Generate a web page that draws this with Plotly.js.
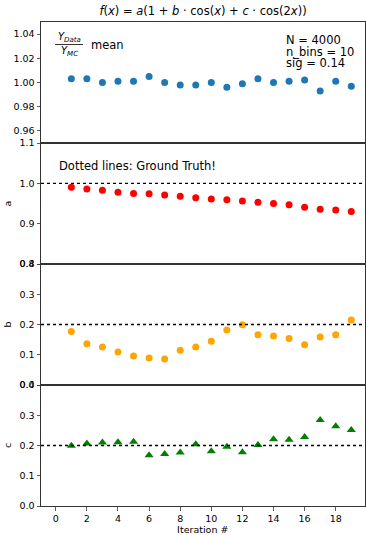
<!DOCTYPE html>
<html>
<head>
<meta charset="utf-8">
<script src="https://cdn.plot.ly/plotly-3.0.1.min.js"></script>
<style>html,body{margin:0;padding:0;background:#fff;}#chart{width:366px;height:535px;}</style>
</head>
<body>
<div id="chart"></div>
<script>
const iterations = [1,2,3,4,5,6,7,8,9,10,11,12,13,14,15,16,17,18,19];
const ratioMean = [1.003,1.003,1.000,1.001,1.001,1.005,1.000,0.998,0.998,1.000,0.996,0.999,1.003,1.000,1.001,1.002,0.993,1.001,0.997];
const aValues = [0.990,0.986,0.983,0.978,0.975,0.974,0.971,0.968,0.964,0.961,0.959,0.956,0.953,0.950,0.947,0.941,0.936,0.934,0.930];
const bValues = [0.177,0.136,0.126,0.109,0.096,0.089,0.086,0.115,0.126,0.145,0.182,0.199,0.166,0.162,0.154,0.133,0.159,0.166,0.215];
const cValues = [0.199,0.207,0.210,0.211,0.212,0.168,0.172,0.177,0.204,0.181,0.196,0.178,0.202,0.221,0.219,0.228,0.284,0.264,0.251];
const truthA = 1.0, truthB = 0.2, truthC = 0.2;
const xTicks = [0,2,4,6,8,10,12,14,16,18];

const W = 366, H = 535;
const px = v => v / W;
const py = v => 1 - v / H;
const font = {family: 'DejaVu Sans, sans-serif', color: '#000'};

const traces = [
  {x: iterations, y: ratioMean, xaxis: 'x4', yaxis: 'y4', mode: 'markers', type: 'scatter',
   marker: {color: '#1f77b4', size: 7}},
  {x: iterations, y: aValues, xaxis: 'x3', yaxis: 'y3', mode: 'markers', type: 'scatter',
   marker: {color: '#ff0000', size: 7}},
  {x: iterations, y: bValues, xaxis: 'x2', yaxis: 'y2', mode: 'markers', type: 'scatter',
   marker: {color: '#ffa500', size: 7}},
  {x: iterations, y: cValues, xaxis: 'x', yaxis: 'y', mode: 'markers', type: 'scatter',
   marker: {color: '#008000', size: 8, symbol: 'triangle-up'}}
];

const xdom = [px(41), px(364.5)];
const xr = [-0.95, 19.85];
const tickFont = Object.assign({size: 9.5}, font);
function xax(extra) {
  return Object.assign({domain: xdom, range: xr, showline: true, mirror: true, linecolor: '#333', linewidth: 1,
    zeroline: false, showgrid: false, tickvals: xTicks, tickfont: tickFont, automargin: false}, extra);
}
function yax(dom, range, dtick, fmt, title, extra) {
  const ax = {domain: dom, range: range, dtick: dtick, tick0: 0, tickformat: fmt,
    showline: true, mirror: true, linecolor: '#333', linewidth: 1, zeroline: false, showgrid: false,
    ticks: 'outside', ticklen: 3.5, tickwidth: 0.8, tickcolor: '#333', tickfont: tickFont, automargin: false};
  if (title) ax.title = {text: title, font: Object.assign({size: 9.5}, font), standoff: 6};
  return Object.assign(ax, extra);
}

const layout = {
  width: W, height: H,
  margin: {l: 0, r: 0, t: 0, b: 0},
  paper_bgcolor: '#fff', plot_bgcolor: '#fff',
  showlegend: false,
  title: {text: '<i>f</i>(<i>x</i>) = <i>a</i>(1 + <i>b</i> · cos(<i>x</i>) + <i>c</i> · cos(2<i>x</i>))',
    font: Object.assign({size: 11.5}, font), x: px(203), xanchor: 'center', y: py(11), yanchor: 'middle', xref: 'paper', yref: 'paper'},
  xaxis: xax({anchor: 'y', ticks: 'outside', ticklen: 3.5, tickwidth: 0.8, tickcolor: '#333',
    title: {text: 'Iteration #', font: Object.assign({size: 9.5}, font), standoff: 4}}),
  xaxis2: xax({anchor: 'y2', matches: 'x', ticks: '', showticklabels: false}),
  xaxis3: xax({anchor: 'y3', matches: 'x', ticks: '', showticklabels: false}),
  xaxis4: xax({anchor: 'y4', matches: 'x', ticks: '', showticklabels: false}),
  yaxis: yax([py(506), py(385)], [0, 0.4], 0.1, '.1f', 'c', {anchor: 'x'}),
  yaxis2: yax([py(385), py(264)], [0, 0.4], 0.1, '.1f', 'b', {anchor: 'x2'}),
  yaxis3: yax([py(264), py(143)], [0.8, 1.1], 0.1, '.1f', 'a', {anchor: 'x3'}),
  yaxis4: yax([py(143), py(22)], [0.95, 1.05], 0.02, '.2f', null, {anchor: 'x4', tick0: 0.96}),
  shapes: [
    {type: 'line', xref: 'x3 domain', yref: 'y3', x0: 0, x1: 1, y0: truthA, y1: truthA, line: {color: '#000', width: 1.3, dash: 'dot'}},
    {type: 'line', xref: 'x2 domain', yref: 'y2', x0: 0, x1: 1, y0: truthB, y1: truthB, line: {color: '#000', width: 1.3, dash: 'dot'}},
    {type: 'line', xref: 'x domain', yref: 'y', x0: 0, x1: 1, y0: truthC, y1: truthC, line: {color: '#000', width: 1.3, dash: 'dot'}},
    {type: 'line', xref: 'paper', yref: 'paper', x0: px(55), x1: px(83), y0: py(44.5), y1: py(44.5), line: {color: '#000', width: 0.8}}
  ],
  annotations: [
    {text: '<i>Y</i><sub><i>Data</i></sub>', xref: 'paper', yref: 'paper', x: px(69), y: py(38), xanchor: 'center', yanchor: 'middle', showarrow: false, font: Object.assign({size: 10}, font)},
    {text: '<i>Y</i><sub><i>MC</i></sub>', xref: 'paper', yref: 'paper', x: px(69), y: py(51), xanchor: 'center', yanchor: 'middle', showarrow: false, font: Object.assign({size: 10}, font)},
    {text: 'mean', xref: 'paper', yref: 'paper', x: px(89), y: py(45), xanchor: 'left', yanchor: 'middle', showarrow: false, font: Object.assign({size: 11.5}, font)},
    {text: 'N = 4000', xref: 'paper', yref: 'paper', x: px(284), y: py(39.5), xanchor: 'left', yanchor: 'middle', showarrow: false, font: Object.assign({size: 11.5}, font)},
    {text: 'n_bins = 10', xref: 'paper', yref: 'paper', x: px(284), y: py(51.5), xanchor: 'left', yanchor: 'middle', showarrow: false, font: Object.assign({size: 11.5}, font)},
    {text: 'sig = 0.14', xref: 'paper', yref: 'paper', x: px(284), y: py(63.5), xanchor: 'left', yanchor: 'middle', showarrow: false, font: Object.assign({size: 11.5}, font)},
    {text: 'Dotted lines: Ground Truth!', xref: 'paper', yref: 'paper', x: px(57), y: py(166), xanchor: 'left', yanchor: 'middle', showarrow: false, font: Object.assign({size: 11.5}, font)}
  ]
};

Plotly.newPlot('chart', traces, layout, {staticPlot: true, displayModeBar: false});
</script>
</body>
</html>
